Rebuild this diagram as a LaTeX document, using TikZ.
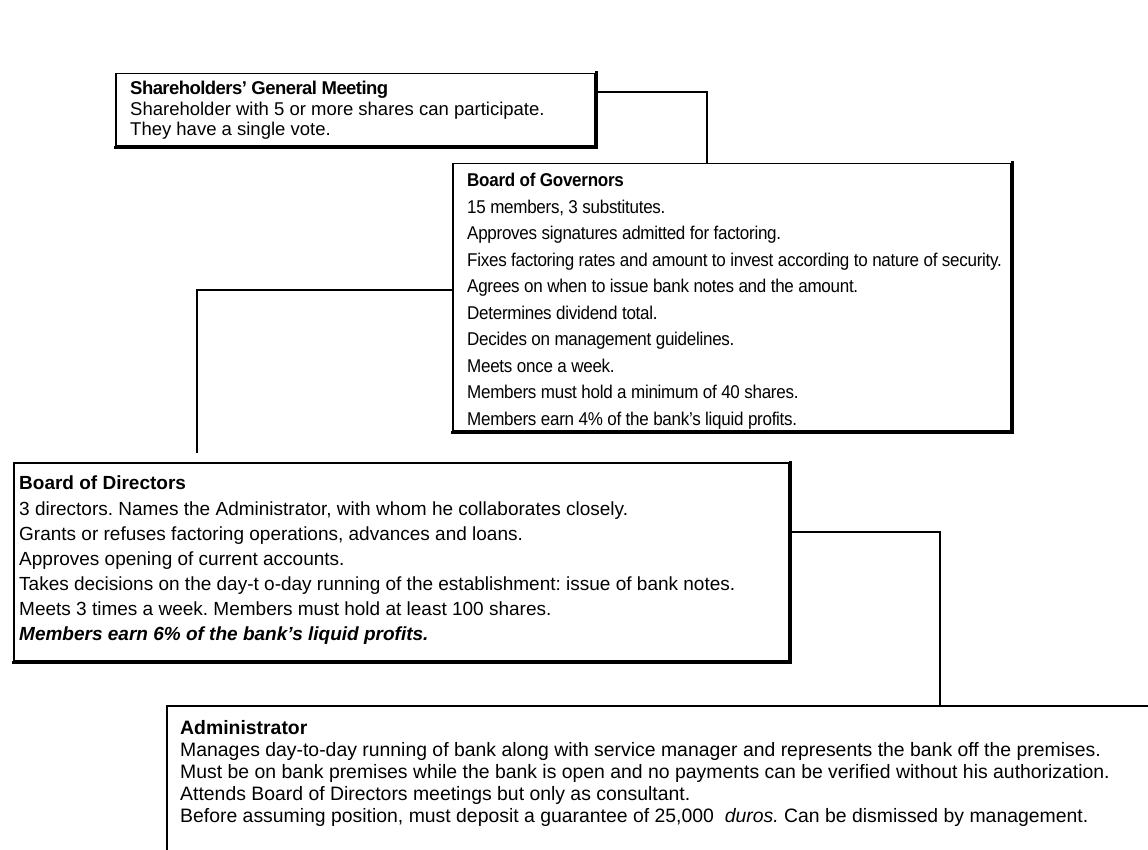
\documentclass[tikz,border=0pt]{standalone}
\usepackage{fontspec}
\setmainfont{Liberation Sans}
\newfontfamily\govfamily[FakeStretch=0.92,LetterSpace=-1.5]{Liberation Sans}
\newfontfamily\narrowfamily[LetterSpace=-3]{Liberation Sans}
\usetikzlibrary{calc}
\frenchspacing
\begin{document}
\begin{tikzpicture}[x=1pt,y=-1pt]
\tikzset{
  boxframe/.style={draw=black, line width=1.5pt, fill=white, inner sep=0pt, anchor=north west},
  boxshade/.style={line width=3pt, line cap=rect},
  conn/.style={line width=2.5pt, line cap=rect},
  txt/.style={anchor=north west, inner sep=0pt, align=left},
  sgmfont/.style={font=\fontsize{18.5}{20.5}\selectfont},
  govfont/.style={font=\govfamily\fontsize{18.5}{26.5}\selectfont},
  bodfont/.style={font=\fontsize{19}{25.1}\selectfont},
  admfont/.style={font=\fontsize{19.4}{22}\selectfont},
}
\useasboundingbox (0,0) rectangle (1148,850);
\fill[white] (0,0) rectangle (1148,850);

% boxes
\node[boxframe, minimum width=479pt, minimum height=72pt] (sgm) at (115,73) {};
\node[boxframe, minimum width=558pt, minimum height=267pt] (gov) at (452,163) {};
\node[boxframe, minimum width=775pt, minimum height=198pt] (bod) at (13,462) {};
\node[boxframe, minimum width=1100pt, minimum height=300pt] (adm) at (166,705) {};

% shadows (thicker right and bottom edges)
\draw[boxshade] ([xshift=0.75pt]sgm.north east) -- ([xshift=0.75pt,yshift=-0.75pt]sgm.south east) -- ([yshift=-0.75pt]sgm.south west);
\draw[boxshade] ([xshift=0.75pt]gov.north east) -- ([xshift=0.75pt,yshift=-0.75pt]gov.south east) -- ([yshift=-0.75pt]gov.south west);
\draw[boxshade] ([xshift=0.75pt]bod.north east) -- ([xshift=0.75pt,yshift=-0.75pt]bod.south east) -- ([yshift=-0.75pt]bod.south west);

% texts
\node[txt, sgmfont] (sgmtext) at (130,81) {{\narrowfamily\bfseries Shareholders’ General Meeting}\\
Shareholder with 5 or more shares can participate.\\
They have a single vote.};

\node[txt, govfont] (govtext) at (467,173) {\textbf{Board of Governors}\\
15 members, 3 substitutes.\\
Approves signatures admitted for factoring.\\
Fixes factoring rates and amount to invest according to nature of security.\\
Agrees on when to issue bank notes and the amount.\\
Determines dividend total.\\
Decides on management guidelines.\\
Meets once a week.\\
Members must hold a minimum of 40 shares.\\
Members earn 4\% of the bank’s liquid profits.};

\node[txt, bodfont] (bodtext) at (19,476) {\textbf{Board of Directors}\\
3 directors. Names the Administrator, with whom he collaborates closely.\\
Grants or refuses factoring operations, advances and loans.\\
Approves opening of current accounts.\\
Takes decisions on the day-t o-day running of the establishment: issue of bank notes.\\
Meets 3 times a week. Members must hold at least 100 shares.\\
\textbf{\textit{Members earn 6\% of the bank’s liquid profits.}}};

\node[txt, admfont] (admtext) at (180,720) {\textbf{Administrator}\\
Manages day-to-day running of bank along with service manager and represents the bank off the premises.\\
Must be on bank premises while the bank is open and no payments can be verified without his authorization.\\
Attends Board of Directors meetings but only as consultant.\\
Before assuming position, must deposit a guarantee of 25,000 \ \textit{duros.} Can be dismissed by management.};

% connectors
\coordinate (c1) at (707,92);
\coordinate (c2) at (197,290);
\coordinate (c3) at (940,532);
\draw[conn] (sgm.east |- c1) -| (gov.north -| c1);
\draw[conn] (gov.west |- c2) -| ($(bod.north -| c2)+(0,-10)$);
\draw[conn] (bod.east |- c3) -| (adm.north -| c3);
\end{tikzpicture}
\end{document}
